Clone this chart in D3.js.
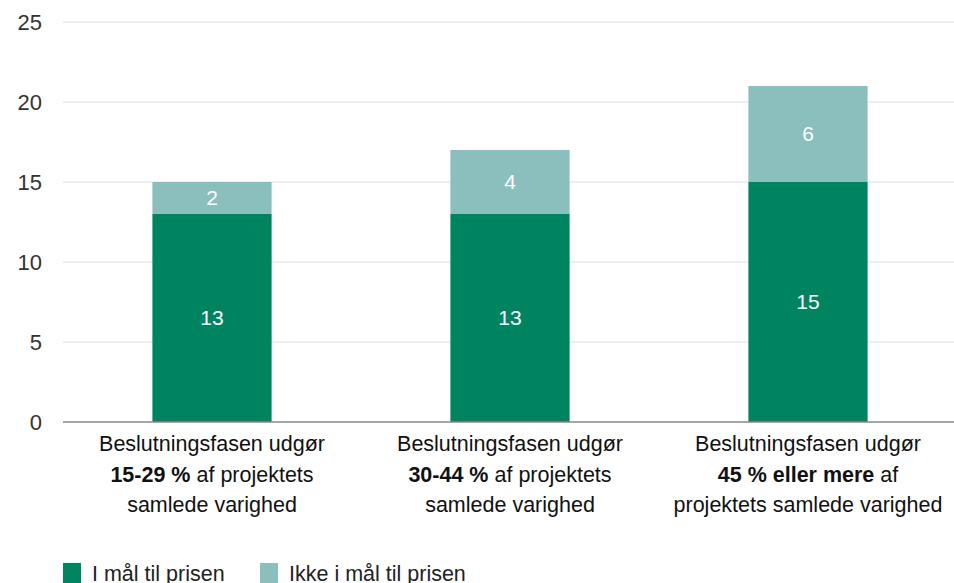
<!DOCTYPE html>
<html><head><meta charset="utf-8">
<script src="https://cdn.jsdelivr.net/npm/d3@7"></script>
<style>body{margin:0;background:#fff;font-family:"Liberation Sans",Arial,sans-serif;}</style>
</head><body><svg id="c" width="954" height="583"></svg>
<script>
const categories = ["c1","c2","c3"];
const labelLines = [
  [[{t:"Beslutningsfasen udgør",b:false}],[{t:"15-29 %",b:true},{t:" af projektets",b:false}],[{t:"samlede varighed",b:false}]],
  [[{t:"Beslutningsfasen udgør",b:false}],[{t:"30-44 %",b:true},{t:" af projektets",b:false}],[{t:"samlede varighed",b:false}]],
  [[{t:"Beslutningsfasen udgør",b:false}],[{t:"45 % eller mere",b:true},{t:" af",b:false}],[{t:"projektets samlede varighed",b:false}]]
];
const seriesNames = ["I mål til prisen","Ikke i mål til prisen"];
const inTarget = [13,13,15];
const notInTarget = [2,4,6];
const yTicks = [0,5,10,15,20,25];
const colors = ["#00845f","#8bbfbe"];

(function(){
const svg = d3.select("#c");
const mLeft = 63, mRight = 957, mTop = 22, mBottom = 422;
const x = d3.scaleBand().domain(categories).range([mLeft,mRight]).padding(0);
const y = d3.scaleLinear().domain([0,25]).range([mBottom,mTop]);
const bw = x.bandwidth()*0.4;

svg.append("g").selectAll("line").data(yTicks.filter(d=>d>0)).join("line")
  .attr("x1",mLeft).attr("x2",954).attr("y1",d=>y(d)).attr("y2",d=>y(d))
  .attr("stroke","#dedede").attr("stroke-width",1);
svg.append("g").selectAll("text").data(yTicks).join("text")
  .attr("x",42).attr("y",d=>y(d)).attr("dy","0.35em").attr("text-anchor","end")
  .attr("font-size",22).attr("fill","#333").text(d=>d);

const data = categories.map((c,i)=>({c, vals:[inTarget[i],notInTarget[i]]}));
const stack = d3.stack().keys([0,1]).value((d,k)=>d.vals[k]);
const stacked = stack(data);
stacked.forEach((s,k)=>{
  const g = svg.append("g");
  g.selectAll("rect").data(s).join("rect")
    .attr("x",d=>x(d.data.c)+x.bandwidth()/2-bw/2).attr("width",bw)
    .attr("y",d=>y(d[1])).attr("height",d=>y(d[0])-y(d[1]))
    .attr("fill",colors[k]);
  g.selectAll("text").data(s).join("text")
    .attr("x",d=>x(d.data.c)+x.bandwidth()/2).attr("y",d=>(y(d[0])+y(d[1]))/2)
    .attr("dy","0.35em").attr("text-anchor","middle").attr("fill","#fff").attr("font-size",21)
    .text(d=>d[1]-d[0]);
});
svg.append("line").attr("x1",mLeft).attr("x2",954).attr("y1",y(0)).attr("y2",y(0))
  .attr("stroke","#888").attr("stroke-width",1.5);

categories.forEach((c,i)=>{
  labelLines[i].forEach((line,j)=>{
    const t = svg.append("text").attr("x",x(c)+x.bandwidth()/2).attr("y",451+j*30.5)
      .attr("text-anchor","middle").attr("font-size",21.5).attr("fill","#111");
    line.forEach(seg=>t.append("tspan").attr("font-weight",seg.b?"bold":"normal").text(seg.t));
  });
});

const lx = [63,260];
seriesNames.forEach((n,i)=>{
  svg.append("rect").attr("x",lx[i]).attr("y",563).attr("width",18).attr("height",20).attr("fill",colors[i]);
  svg.append("text").attr("x",lx[i]+29).attr("y",581).attr("font-size",21.5).attr("fill","#222").text(n);
});
})();
</script></body></html>
